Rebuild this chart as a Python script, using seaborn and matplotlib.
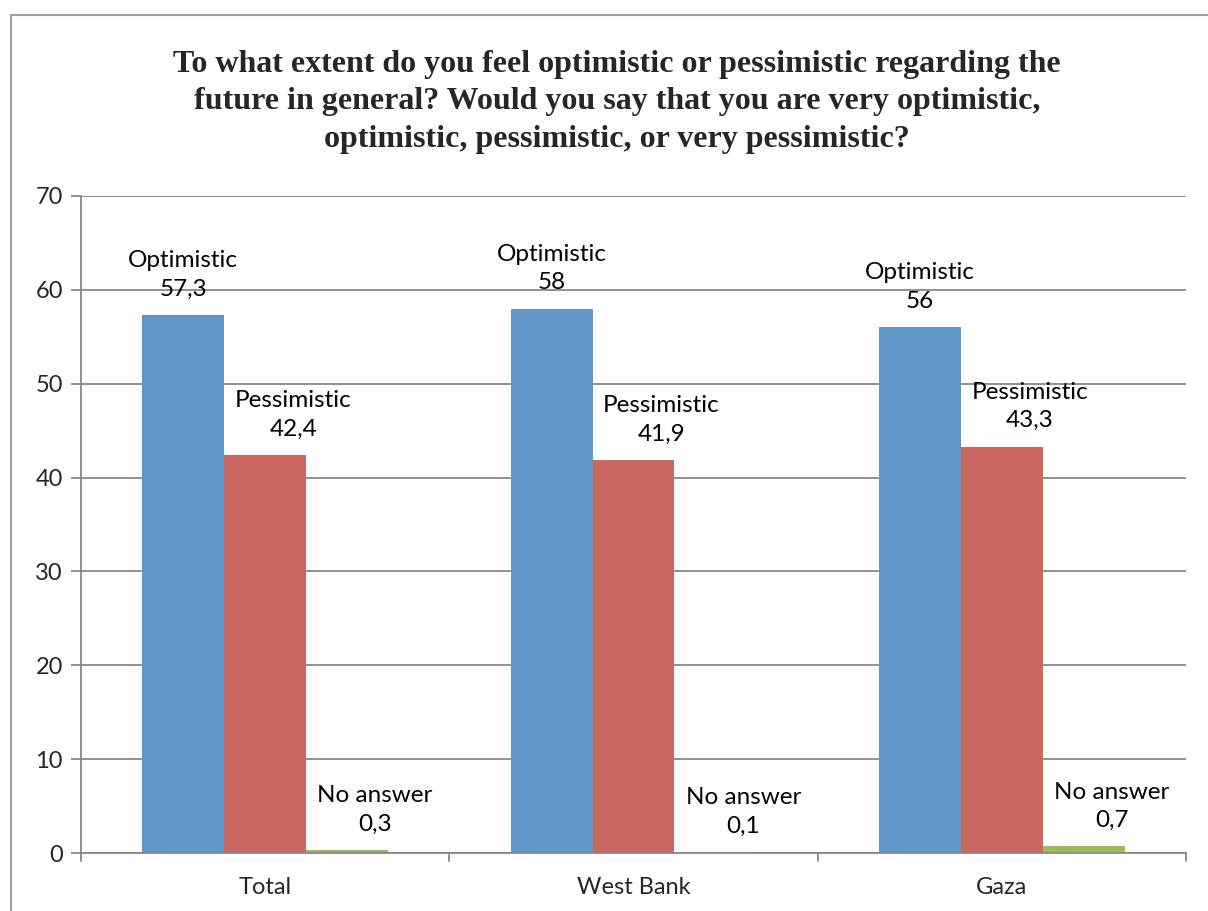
import matplotlib
matplotlib.use("Agg")
import matplotlib.pyplot as plt
import seaborn as sns
import pandas as pd
from matplotlib.patches import Rectangle

categories = ["Total", "West Bank", "Gaza"]
series = ["Optimistic", "Pessimistic", "No answer"]
optimistic = [57.3, 58, 56]
pessimistic = [42.4, 41.9, 43.3]
no_answer = [0.3, 0.1, 0.7]
value_labels = {
    "Optimistic": ["57,3", "58", "56"],
    "Pessimistic": ["42,4", "41,9", "43,3"],
    "No answer": ["0,3", "0,1", "0,7"],
}
yticks = [0, 10, 20, 30, 40, 50, 60, 70]
title = ("To what extent do you feel optimistic or pessimistic regarding the\n"
         "future in general? Would you say that you are very optimistic,\n"
         "optimistic, pessimistic, or very pessimistic?")

colors = ["#6096C9", "#CC6660", "#9BBB59"]

rows = []
for s, vals in zip(series, [optimistic, pessimistic, no_answer]):
    for c, v in zip(categories, vals):
        rows.append({"category": c, "series": s, "value": v})
df = pd.DataFrame(rows)

sns.set_theme(style="white")
plt.rcParams['font.family'] = ['Lato', 'DejaVu Sans']

fig = plt.figure(figsize=(12.08, 9.11), dpi=100)
ax = fig.add_axes([81/1208, 1 - 853/911, (1186-81)/1208, (853-196)/911])

sns.barplot(data=df, x="category", y="value", hue="series", palette=colors,
            width=2/3, ax=ax, legend=False, saturation=1, linewidth=0)

ax.set_xlim(-0.5, 2.5)
ax.set_ylim(0, 70)
ax.set_yticks(yticks)
ax.set_yticklabels([str(t) for t in yticks], fontsize=17)
ax.tick_params(axis='x', labelsize=17, length=0, pad=17)
ax.tick_params(axis='y', length=7, width=1.3, color="#888888", direction='out', pad=6, left=True)
ax.yaxis.grid(True, color="#888888", linewidth=1.3)
ax.set_axisbelow(True)
ax.set_xlabel("")
ax.set_ylabel("")
for side in ["top", "right"]:
    ax.spines[side].set_visible(False)
for side in ["left", "bottom"]:
    ax.spines[side].set_color("#888888")
    ax.spines[side].set_linewidth(1.3)

# category separator ticks (downward)
for xt in [-0.5, 0.5, 1.5, 2.5]:
    ax.plot([xt, xt], [0, -0.012], transform=ax.get_xaxis_transform(),
            color="#888888", lw=1.3, clip_on=False)

x_offsets = {"Optimistic": 0, "Pessimistic": 28, "No answer": 28}
for container, s in zip(ax.containers, series):
    for bar, lab in zip(container, value_labels[s]):
        xc = bar.get_x() + bar.get_width() / 2
        ax.annotate(f"{s}\n{lab}", xy=(xc, bar.get_height()),
                    xytext=(x_offsets[s] * 0.72, 11), textcoords="offset points",
                    ha="center", va="bottom", fontsize=17.5, linespacing=1.45,
                    color="black")

fig.text(617/1208, 1 - 102/911, title, ha="center", va="center",
         fontsize=23, fontweight="bold", family=["Liberation Serif"],
         linespacing=1.38)

fig.patches.append(Rectangle((11/1208, -0.05), 1.2, 1 - 15/911 + 0.05,
                             transform=fig.transFigure, fill=False,
                             edgecolor="#A0A0A0", linewidth=1.5))

fig.savefig("out.png", dpi=100)
